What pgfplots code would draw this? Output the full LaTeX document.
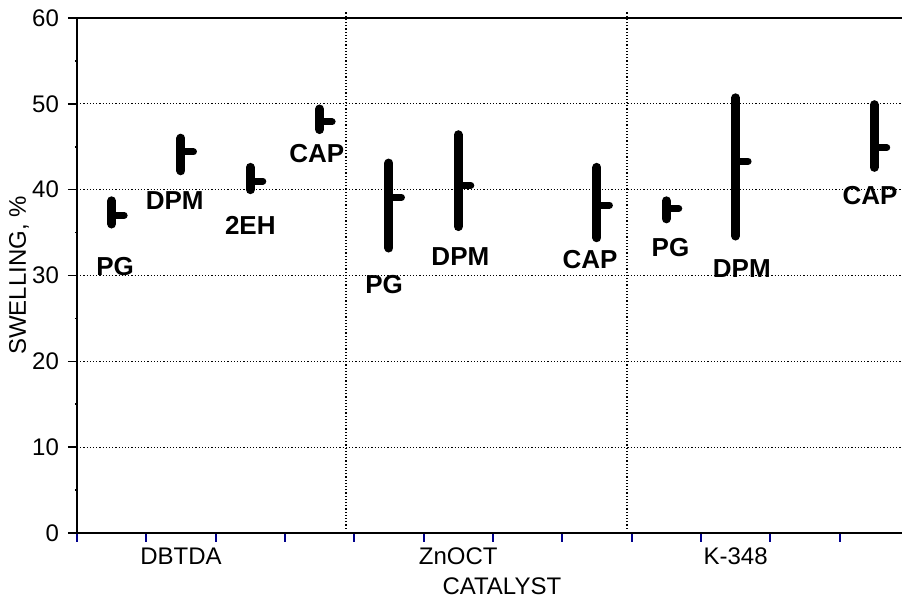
\documentclass[border=0pt]{standalone}
\usepackage{fontspec}
\setmainfont{Liberation Sans}
\usepackage{pgfplots}
\usepackage{pgfplotstable}
\pgfplotsset{compat=1.18}

\definecolor{tickblue}{RGB}{0,0,140}

% x = position, lo/hi = range, mean = marked value
\pgfplotstableread{
x    lo    hi    mean
0.5  36.0  38.7  37.0
1.5  42.2  46.0  44.4
2.5  40.0  42.6  41.0
3.5  47.0  49.4  47.9
4.5  33.2  43.1  39.1
5.5  35.7  46.4  40.5
7.5  34.4  42.6  38.2
8.5  36.6  38.7  37.8
9.5  34.6  50.7  43.3
11.5 42.6  49.9  44.9
}\swelling

% label positions
\pgfplotstableread{
lx    ly    lab
0.55  31.1  PG
1.41  38.7  DPM
2.50  35.8  2EH
3.46  44.2  CAP
4.43  29.0  PG
5.53  32.2  DPM
7.40  31.9  CAP
8.56  33.2  PG
9.59  30.8  DPM
11.44 39.3  CAP
}\labels

\begin{document}
\begin{tikzpicture}
\useasboundingbox (-38.5pt,-33pt) rectangle (412.5pt,266.5pt);
\begin{axis}[
  scale only axis,
  width=412.5pt, height=257.5pt,
  at={(0,0)}, anchor=south west,
  xmin=0, xmax=11.9,
  ymin=0, ymax=60,
  axis lines=left,
  axis line style={-, line width=1pt, black},
  xtick={0,1,...,11},
  xticklabels={},
  extra x ticks={1.5,5.5,9.5},
  extra x tick labels={DBTDA,ZnOCT,K-348},
  extra x tick style={major tick length=0pt},
  xtick style={tickblue, line width=1pt},
  ytick={0,10,...,60},
  minor ytick={5,15,...,55},
  ytick style={black, line width=0.8pt},
  minor tick style={tickblue, line width=0.8pt},
  minor tick length=1pt,
  major tick length=4.5pt,
  tick align=outside,
  ymajorgrids,
  major grid style={black, line width=0.6pt, dash pattern=on 0.6pt off 1pt},
  tick label style={font=\fontsize{12}{14}\selectfont},
  yticklabel style={xshift=-1pt},
  xticklabel style={yshift=-4pt},
  /pgf/number format/assume math mode=true,
  xlabel={CATALYST},
  ylabel={SWELLING, \%},
  label style={font=\fontsize{12}{14}\selectfont},
  xlabel style={at={(rel axis cs:0.515,0)}, anchor=north, inner sep=0pt, yshift=-22pt},
  ylabel style={at={(rel axis cs:0,0.5)}, anchor=center, yshift=29pt},
  clip=false,
]
% top axis line and group dividers
\draw[line width=1pt] (rel axis cs:0,1) -- (rel axis cs:1,1);
\draw[line width=0.8pt, dash pattern=on 0.6pt off 1pt] (axis cs:3.88,0.5) -- (axis cs:3.88,60.8);
\draw[line width=0.8pt, dash pattern=on 0.6pt off 1pt] (axis cs:7.93,0.5) -- (axis cs:7.93,60.8);

% ranges
\addplot[draw=none, mark=none,
  error bars/.cd, y dir=both, y explicit,
  error mark=none,
  error bar style={line width=4.5pt, line cap=round, black}]
  table[x=x, y=mean,
    y error plus expr=\thisrow{hi}-\thisrow{mean},
    y error minus expr=\thisrow{mean}-\thisrow{lo}] {\swelling};
% mean ticks
\addplot[draw=none, mark=none,
  error bars/.cd, x dir=plus, x fixed=0.18,
  error mark=none,
  error bar style={line width=3.5pt, line cap=round, black}]
  table[x=x, y=mean] {\swelling};

% labels
\addplot[only marks, mark=none, nodes near coords, point meta=explicit symbolic,
  every node near coord/.style={anchor=center, font=\fontsize{13}{15}\selectfont\bfseries, black}]
  table[x=lx, y=ly, meta=lab] {\labels};
\end{axis}
\end{tikzpicture}
\end{document}
